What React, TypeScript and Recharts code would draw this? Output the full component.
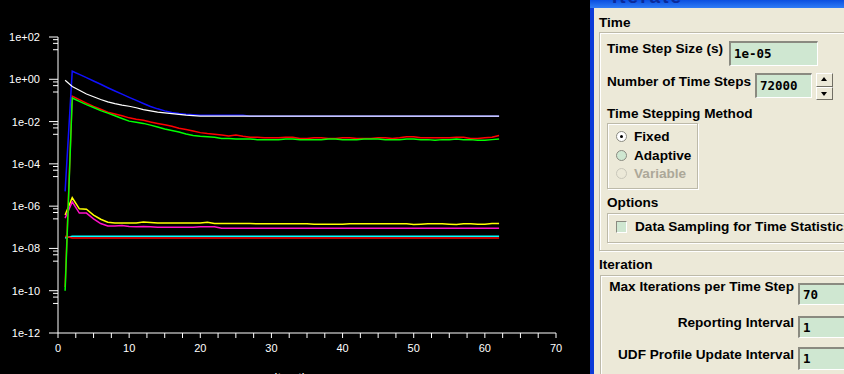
import { LineChart, Line, XAxis, YAxis, Label } from 'recharts';

// iteration numbers
const iterations = [
  1, 2, 3, 4, 5, 6, 7, 8, 9, 10,
  11, 12, 13, 14, 15, 16, 17, 18, 19, 20,
  21, 22, 23, 24, 25, 26, 27, 28, 29, 30,
  31, 32, 33, 34, 35, 36, 37, 38, 39, 40,
  41, 42, 43, 44, 45, 46, 47, 48, 49, 50,
  51, 52, 53, 54, 55, 56, 57, 58, 59, 60,
  61, 62,
];

// residuals
const blueRes = [
  5e-6, 2.4, 1.7, 1.2, 0.83, 0.58, 0.4, 0.28, 0.2, 0.14,
  0.1, 0.072, 0.052, 0.04, 0.032, 0.027, 0.024, 0.022, 0.021, 0.02,
  0.02, 0.02, 0.02, 0.02, 0.02, 0.02, 0.018, 0.018, 0.018, 0.018,
  0.018, 0.018, 0.018, 0.018, 0.018, 0.018, 0.018, 0.018, 0.018, 0.018,
  0.018, 0.018, 0.018, 0.018, 0.018, 0.018, 0.018, 0.018, 0.018, 0.018,
  0.018, 0.018, 0.018, 0.018, 0.018, 0.018, 0.018, 0.018, 0.018, 0.018,
  0.018, 0.018,
];
const whiteRes = [
  0.9, 0.46, 0.3, 0.2, 0.15, 0.11, 0.085, 0.07, 0.06, 0.053,
  0.045, 0.037, 0.032, 0.028, 0.026, 0.024, 0.022, 0.02, 0.019, 0.018,
  0.018, 0.018, 0.018, 0.018, 0.018, 0.018, 0.018, 0.018, 0.018, 0.018,
  0.018, 0.018, 0.018, 0.018, 0.018, 0.018, 0.018, 0.018, 0.018, 0.018,
  0.018, 0.018, 0.018, 0.018, 0.018, 0.018, 0.018, 0.018, 0.018, 0.018,
  0.018, 0.018, 0.018, 0.018, 0.018, 0.018, 0.018, 0.018, 0.018, 0.018,
  0.018, 0.018,
];
const redRes = [
  1.5e-10, 0.16, 0.11, 0.075, 0.052, 0.038, 0.028, 0.023, 0.019, 0.015,
  0.013, 0.0115, 0.0095, 0.0082, 0.007, 0.006, 0.0048, 0.0042, 0.0036, 0.003,
  0.0027, 0.0025, 0.0023, 0.0021, 0.0023, 0.002, 0.0018, 0.0018, 0.0017, 0.0017,
  0.0017, 0.0018, 0.0018, 0.0016, 0.0016, 0.0017, 0.0017, 0.0016, 0.0016, 0.0017,
  0.0017, 0.0016, 0.0016, 0.0016, 0.0017, 0.0017, 0.0016, 0.0017, 0.0019, 0.0019,
  0.0017, 0.0017, 0.0017, 0.0017, 0.0017, 0.0018, 0.0018, 0.0016, 0.0016, 0.0017,
  0.0018, 0.0022,
];
const greenRes = [
  1e-10, 0.13, 0.09, 0.063, 0.046, 0.033, 0.025, 0.019, 0.014, 0.0105,
  0.0092, 0.0082, 0.0068, 0.0055, 0.0045, 0.0038, 0.0032, 0.0026, 0.0022, 0.002,
  0.0019, 0.0018, 0.0016, 0.0016, 0.0015, 0.0015, 0.0015, 0.0014, 0.0014, 0.0014,
  0.0014, 0.0015, 0.0015, 0.0014, 0.0014, 0.0014, 0.0014, 0.0015, 0.0015, 0.0014,
  0.0014, 0.0014, 0.0015, 0.0015, 0.0015, 0.0014, 0.0014, 0.0014, 0.0015, 0.0015,
  0.0014, 0.0014, 0.0013, 0.0014, 0.0014, 0.0015, 0.0014, 0.0014, 0.0013, 0.0013,
  0.0014, 0.0015,
];
const yellowRes = [
  3.8e-7, 2.5e-6, 7.5e-7, 7.2e-7, 3.8e-7, 2.4e-7, 1.75e-7, 1.6e-7, 1.6e-7, 1.6e-7,
  1.6e-7, 1.8e-7, 1.7e-7, 1.6e-7, 1.6e-7, 1.6e-7, 1.6e-7, 1.6e-7, 1.6e-7, 1.6e-7,
  1.75e-7, 1.5e-7, 1.5e-7, 1.5e-7, 1.5e-7, 1.5e-7, 1.5e-7, 1.45e-7, 1.45e-7, 1.45e-7,
  1.45e-7, 1.45e-7, 1.45e-7, 1.45e-7, 1.45e-7, 1.4e-7, 1.4e-7, 1.4e-7, 1.4e-7, 1.4e-7,
  1.45e-7, 1.45e-7, 1.45e-7, 1.45e-7, 1.45e-7, 1.45e-7, 1.45e-7, 1.45e-7, 1.45e-7, 1.35e-7,
  1.4e-7, 1.45e-7, 1.45e-7, 1.45e-7, 1.4e-7, 1.35e-7, 1.45e-7, 1.45e-7, 1.4e-7, 1.4e-7,
  1.5e-7, 1.5e-7,
];
const magentaRes = [
  2.7e-7, 1.6e-6, 4.7e-7, 4.7e-7, 2.5e-7, 1.5e-7, 1.15e-7, 1.15e-7, 1.2e-7, 1.1e-7,
  1.05e-7, 1.1e-7, 1.05e-7, 1e-7, 1e-7, 1e-7, 1e-7, 1e-7, 1e-7, 1.05e-7,
  1.05e-7, 1.05e-7, 9e-8, 9e-8, 9e-8, 9e-8, 9e-8, 9e-8, 9e-8, 9e-8,
  9e-8, 9e-8, 9e-8, 9e-8, 9e-8, 9e-8, 9e-8, 9e-8, 9e-8, 9e-8,
  9e-8, 9e-8, 9e-8, 9e-8, 9e-8, 9e-8, 9e-8, 9e-8, 9e-8, 9e-8,
  9e-8, 9e-8, 9e-8, 9e-8, 9e-8, 9e-8, 9e-8, 9e-8, 9e-8, 9e-8,
  9e-8, 9e-8,
];
const cyanRes = [
  3.1e-8, 3.8e-8, 3.8e-8, 3.8e-8, 3.8e-8, 3.8e-8, 3.8e-8, 3.8e-8, 3.8e-8, 3.8e-8,
  3.8e-8, 3.8e-8, 3.8e-8, 3.8e-8, 3.8e-8, 3.8e-8, 3.8e-8, 3.8e-8, 3.8e-8, 3.8e-8,
  3.8e-8, 3.8e-8, 3.8e-8, 3.8e-8, 3.8e-8, 3.8e-8, 3.8e-8, 3.8e-8, 3.8e-8, 3.8e-8,
  3.8e-8, 3.8e-8, 3.8e-8, 3.8e-8, 3.8e-8, 3.8e-8, 3.8e-8, 3.8e-8, 3.8e-8, 3.8e-8,
  3.8e-8, 3.8e-8, 3.8e-8, 3.8e-8, 3.8e-8, 3.8e-8, 3.8e-8, 3.8e-8, 3.8e-8, 3.8e-8,
  3.8e-8, 3.8e-8, 3.8e-8, 3.8e-8, 3.8e-8, 3.8e-8, 3.8e-8, 3.8e-8, 3.8e-8, 3.8e-8,
  3.8e-8, 3.8e-8,
];
const red2Res = [
  3.8e-8, 3.1e-8, 3.1e-8, 3.1e-8, 3.1e-8, 3.1e-8, 3.1e-8, 3.1e-8, 3.1e-8, 3.1e-8,
  3.1e-8, 3.1e-8, 3.1e-8, 3.1e-8, 3.1e-8, 3.1e-8, 3.1e-8, 3.1e-8, 3.1e-8, 3.1e-8,
  3.1e-8, 3.1e-8, 3.1e-8, 3.1e-8, 3.1e-8, 3.1e-8, 3.1e-8, 3.1e-8, 3.1e-8, 3.1e-8,
  3.1e-8, 3.1e-8, 3.1e-8, 3.1e-8, 3.1e-8, 3.1e-8, 3.1e-8, 3.1e-8, 3.1e-8, 3.1e-8,
  3.1e-8, 3.1e-8, 3.1e-8, 3.1e-8, 3.1e-8, 3.1e-8, 3.1e-8, 3.1e-8, 3.1e-8, 3.1e-8,
  3.1e-8, 3.1e-8, 3.1e-8, 3.1e-8, 3.1e-8, 3.1e-8, 3.1e-8, 3.1e-8, 3.1e-8, 3.1e-8,
  3.1e-8, 3.1e-8,
];

// axis ticks
const majorY = [1e2, 1, 1e-2, 1e-4, 1e-6, 1e-8, 1e-10, 1e-12];
const minorFactors = [0.75, 0.5, 0.25];
const xTicks = [
  0, 2.5, 5, 7.5, 10, 12.5, 15, 17.5, 20, 22.5, 25, 27.5, 30, 32.5, 35,
  37.5, 40, 42.5, 45, 47.5, 50, 52.5, 55, 57.5, 60, 62.5, 65, 67.5, 70,
];

const yTicks: number[] = [];
majorY.forEach((m) => {
  yTicks.push(m);
  if (m > 1e-12) minorFactors.forEach((f) => yTicks.push(m * f));
});

const data = iterations.map((it, i) => ({
  it,
  blue: blueRes[i],
  white: whiteRes[i],
  red: redRes[i],
  green: greenRes[i],
  yellow: yellowRes[i],
  magenta: magentaRes[i],
  cyan: cyanRes[i],
  red2: red2Res[i],
}));

const fmtExp = (v: number) => {
  const e = Math.round(Math.log10(v));
  const s = e < 0 ? '-' : '+';
  return `1e${s}${String(Math.abs(e)).padStart(2, '0')}`;
};

function YTick(props: any) {
  const { x, y, payload } = props;
  const major = majorY.includes(payload.value);
  return (
    <g>
      <line x1={x - (major ? 9 : 5)} x2={x} y1={y} y2={y} stroke="#fff" />
      {major && (
        <text x={x - 18} y={y} fill="#fff" fontSize={11} textAnchor="end"
          dominantBaseline="central" fontFamily="'Liberation Sans', Arial, sans-serif">
          {fmtExp(payload.value)}
        </text>
      )}
    </g>
  );
}

const ui = "'Liberation Sans', Arial, sans-serif";
const mono = "'DejaVu Sans Mono', monospace";

function Txt({ x, cy, right, color = '#000', children }: any) {
  const pos: any = right !== undefined ? { right: 844 - right } : { left: x };
  return (
    <div style={{ position: 'absolute', ...pos, top: cy - 8, height: 16, lineHeight: '16px',
      fontFamily: ui, fontWeight: 'bold', fontSize: 13.6, color, whiteSpace: 'nowrap' }}>
      {children}
    </div>
  );
}

function Entry({ x, y, w, h, value }: any) {
  return (
    <div style={{ position: 'absolute', left: x, top: y, width: w, height: h, boxSizing: 'border-box',
      background: '#cfe7d1', borderTop: '2px solid #8a8a80', borderLeft: '2px solid #8a8a80',
      borderBottom: '1px solid #fff', borderRight: '1px solid #fff', paddingLeft: 3,
      fontFamily: mono, fontWeight: 'bold', fontSize: 12.5, lineHeight: `${h - 3}px`, color: '#000' }}>
      {value}
    </div>
  );
}

function Group({ x, y, w, h }: any) {
  return (
    <div style={{ position: 'absolute', left: x, top: y, width: w, height: h, boxSizing: 'border-box',
      border: '1px solid #bdbaa9', boxShadow: 'inset 1px 1px 0 #fff, 1px 1px 0 #fff' }} />
  );
}

function Radio({ cy, label, checked, disabled, fill }: any) {
  return (
    <>
      <div style={{ position: 'absolute', left: 616, top: cy - 6, width: 11, height: 11, borderRadius: '50%',
        boxSizing: 'border-box', border: `1px solid ${disabled ? '#c9c7ba' : '#8a8a80'}`, background: fill }}>
        {checked && <div style={{ position: 'absolute', left: 3, top: 3, width: 3, height: 3, borderRadius: '50%', background: '#000' }} />}
      </div>
      <Txt x={634} cy={cy} color={disabled ? '#aca899' : '#000'}>{label}</Txt>
    </>
  );
}

export default function App() {
  return (
    <div style={{ position: 'absolute', left: 0, top: 0, width: 844, height: 374, overflow: 'hidden', background: '#000' }}>
      <div style={{ position: 'absolute', left: 0, top: 0 }}>
        <LineChart width={590} height={380} data={data} margin={{ top: 37, right: 34, bottom: 0, left: 0 }}>
          <XAxis dataKey="it" type="number" domain={[0, 70]} ticks={xTicks} interval={0} allowDataOverflow
            height={47} stroke="#fff" tickSize={5} tickMargin={6}
            tick={{ fill: '#fff', fontSize: 11, fontFamily: ui }}
            tickFormatter={(v: number) => (v % 10 === 0 ? String(v) : '')}>
            <Label value="Iterations" position="insideBottom" offset={-2} dx={-8} fill="#fff" fontSize={12} fontFamily={ui} />
          </XAxis>
          <YAxis type="number" scale="log" domain={[1e-12, 1e2]} ticks={yTicks} interval={0} allowDataOverflow
            width={58} stroke="#fff" tickLine={false} tickSize={0} tickMargin={0} tick={<YTick />} />
          <Line dataKey="yellow" stroke="#ffff00" strokeWidth={1.5} dot={false} activeDot={false} isAnimationActive={false} />
          <Line dataKey="magenta" stroke="#ff10c8" strokeWidth={1.5} dot={false} activeDot={false} isAnimationActive={false} />
          <Line dataKey="cyan" stroke="#00ffff" strokeWidth={1.5} dot={false} activeDot={false} isAnimationActive={false} />
          <Line dataKey="red2" stroke="#ff0000" strokeWidth={1.5} dot={false} activeDot={false} isAnimationActive={false} />
          <Line dataKey="red" stroke="#ff0000" strokeWidth={1.5} dot={false} activeDot={false} isAnimationActive={false} />
          <Line dataKey="green" stroke="#00ff00" strokeWidth={1.5} dot={false} activeDot={false} isAnimationActive={false} />
          <Line dataKey="blue" stroke="#1010ff" strokeWidth={1.5} dot={false} activeDot={false} isAnimationActive={false} />
          <Line dataKey="white" stroke="#ffffff" strokeWidth={1.2} dot={false} activeDot={false} isAnimationActive={false} />
        </LineChart>
      </div>

      {/* dialog panel */}
      <div style={{ position: 'absolute', left: 590, top: 0, width: 254, height: 374, background: '#ece9d8',
        borderLeft: '4px solid #0b3ad8', boxSizing: 'border-box' }} />
      <div style={{ position: 'absolute', left: 590, top: 0, width: 254, height: 8, overflow: 'hidden',
        background: 'linear-gradient(#0a4fe0, #2f7cf6)' }}>
        <div style={{ position: 'absolute', left: 22, top: -14, fontFamily: ui, fontWeight: 'bold', fontSize: 19,
          letterSpacing: 2, color: '#0a2a9a' }}>Iterate</div>
      </div>

      <Txt x={599} cy={23}>Time</Txt>
      <Group x={599} y={32} w={260} h={219} />
      <Txt x={607} cy={49}>Time Step Size (s)</Txt>
      <Entry x={729} y={41} w={89} h={25} value="1e-05" />
      <Txt x={607} cy={82}>Number of Time Steps</Txt>
      <Entry x={755} y={73} w={57} h={25} value="72000" />
      <div style={{ position: 'absolute', left: 816, top: 73, width: 17, height: 27 }}>
        {[0, 1].map((k) => (
          <div key={k} style={{ position: 'absolute', left: 0, top: k * 13.5, width: 17, height: 13.5, boxSizing: 'border-box',
            background: '#ece9d8', borderTop: '1px solid #fff', borderLeft: '1px solid #fff',
            borderRight: '1px solid #716f64', borderBottom: '1px solid #716f64' }}>
            <div style={{ position: 'absolute', left: 4, top: k === 0 ? 3 : 4, width: 0, height: 0,
              borderLeft: '3.5px solid transparent', borderRight: '3.5px solid transparent',
              ...(k === 0 ? { borderBottom: '4px solid #000' } : { borderTop: '4px solid #000' }) }} />
          </div>
        ))}
      </div>
      <Txt x={607} cy={114}>Time Stepping Method</Txt>
      <Group x={607} y={123} w={91} h={66} />
      <Radio cy={137} label="Fixed" checked fill="#fff" />
      <Radio cy={156} label="Adaptive" fill="#cfe7d1" />
      <Radio cy={174} label="Variable" disabled fill="#ece9d8" />
      <Txt x={607} cy={203}>Options</Txt>
      <Group x={607} y={213} w={260} h={30} />
      <div style={{ position: 'absolute', left: 616, top: 221, width: 11, height: 12, boxSizing: 'border-box',
        background: '#cfe7d1', borderTop: '1px solid #8a8a80', borderLeft: '1px solid #8a8a80',
        borderBottom: '1px solid #fff', borderRight: '1px solid #fff' }} />
      <Txt x={635} cy={227}>Data Sampling for Time Statistics</Txt>

      <Txt x={599} cy={265}>Iteration</Txt>
      <Group x={600} y={275} w={260} h={120} />
      <Txt right={794} cy={287}>Max Iterations per Time Step</Txt>
      <Entry x={798} y={283} w={60} h={22} value="70" />
      <Txt right={794} cy={323}>Reporting Interval</Txt>
      <Entry x={798} y={316} w={60} h={22} value="1" />
      <Txt right={794} cy={355}>UDF Profile Update Interval</Txt>
      <Entry x={798} y={347} w={60} h={23} value="1" />
    </div>
  );
}
